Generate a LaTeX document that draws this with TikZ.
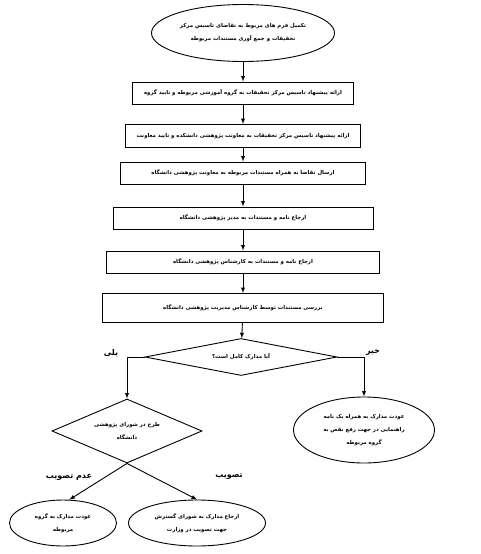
\documentclass[tikz,border=0pt]{standalone}
\usepackage{fontspec}
\newfontfamily\arabicfont[Script=Arabic]{DejaVu Sans}
\TeXXeTstate=1
\usetikzlibrary{shapes.geometric}
\newcommand{\fa}[1]{\beginR #1\endR}

\begin{document}
\begin{tikzpicture}[x=1pt,y=-1pt,line width=0.9pt,
  every node/.style={font=\arabicfont\bfseries\fontsize{5.4}{13}\selectfont,inner sep=0pt,align=center},
  box/.style={draw,rectangle,minimum height=22pt},
  oval/.style={draw,ellipse},
  decide/.style={draw,diamond},
  answer/.style={font=\arabicfont\bfseries\fontsize{8}{10}\selectfont},
  arr/.style={->,>=latex}]

\useasboundingbox (0,0) rectangle (480,554);

 \node[oval,minimum width=183pt,minimum height=57pt] (start) at (243,33)
   {\fa{تکمیل فرم های مربوط به تقاضای تاسیس مرکز}\\ \fa{تحقیقات و جمع آوری مستندات مربوطه}};

 \node[box,minimum width=221pt] (gorooh) at (243,93)
   {\fa{ارائه پیشنهاد تاسیس مرکز تحقیقات به گروه آموزشی مربوطه و تایید گروه}};
 \node[box,minimum width=235pt,minimum height=23pt] (daneshkade) at (243,136)
   {\fa{ارائه پیشنهاد تاسیس مرکز تحقیقات به معاونت پژوهشی دانشکده و تایید معاونت}};
 \node[box,minimum width=245pt] (ersal) at (243,173)
   {\fa{ارسال تقاضا به همراه مستندات مربوطه به معاونت پژوهشی دانشگاه}};
 \node[box,minimum width=260pt] (modir) at (243,218)
   {\fa{ارجاع نامه و مستندات به مدیر پژوهشی دانشگاه}};
 \node[box,minimum width=273pt] (karshenas) at (243,262)
   {\fa{ارجاع نامه و مستندات به کارشناس پژوهشی دانشگاه}};
 \node[box,minimum width=281pt,minimum height=29pt] (barresi) at (243,308)
   {\fa{بررسی مستندات توسط کارشناس مدیریت پژوهشی دانشگاه}};

 \node[decide,aspect=5.2,minimum width=192pt,minimum height=37pt] (kamel) at (241,357)
   {\fa{آیا مدارک کامل است؟}};

 \node[decide,aspect=2.34,minimum width=150pt,minimum height=64pt] (shora) at (127,431)
   {\fa{طرح در شورای پژوهشی}\\ \fa{دانشگاه}};
 \node[oval,minimum width=141pt,minimum height=66pt] (naqs) at (364,430)
   {\fa{عودت مدارک به همراه یک نامه}\\ \fa{راهنمایی در جهت رفع نقص به}\\ \fa{گروه مربوطه}};

 \node[oval,minimum width=107pt,minimum height=46pt] (odat) at (63,523)
   {\fa{عودت مدارک به گروه}\\ \fa{مربوطه}};
 \node[oval,minimum width=137pt,minimum height=46pt] (vezarat) at (197,523)
   {\fa{ارجاع مدارک به شورای گسترش}\\ \fa{جهت تصویب در وزارت}};

\draw[arr] (start) -- (gorooh);
\draw[arr] (gorooh) -- (daneshkade);
\draw[arr] (daneshkade) -- (ersal);
\draw[arr] (ersal) -- (modir);
\draw[arr] (modir) -- (karshenas);
\draw[arr] (karshenas) -- (barresi);
\draw[arr] (barresi) -- (kamel);

\draw[arr] (kamel.west) -| (shora.north);
\draw[arr] (kamel.east) -| (naqs.north);
\draw[arr] (shora.south) -- (odat.75);
\draw[arr] (shora.south) -- (vezarat.north);

 \node[answer] (bali) at (111,353) {\fa{بلی}};
 \node[answer] (kheir) at (373,352) {\fa{خیر}};
 \node[answer] (rad) at (69,477) {\fa{عدم تصویب}};
 \node[answer] (tasvib) at (229,477) {\fa{تصویب}};
\end{tikzpicture}
\end{document}
